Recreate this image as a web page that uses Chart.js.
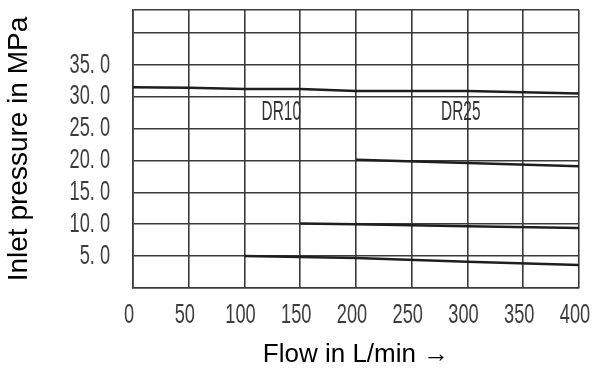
<!DOCTYPE html>
<html>
<head>
<meta charset="utf-8">
<script src="https://cdn.jsdelivr.net/npm/chart.js@4"></script>
<style>
  body { margin: 0; background: #fff; }
  #wrap { width: 595px; height: 369px; }
</style>
</head>
<body>
<div id="wrap"><canvas id="chart-flow" width="595" height="369"></canvas></div>
<script>
// values
let xTicks = [0, 50, 100, 150, 200, 250, 300, 350, 400]
let yTicks = [5, 10, 15, 20, 25, 30, 35]
let yTickLabels = ["5. 0", "10. 0", "15. 0", "20. 0", "25. 0", "30. 0", "35. 0"]

let flowTop = [0, 50, 100, 150, 200, 300, 400]
let pressTop = [31.5, 31.4, 31.2, 31.2, 30.9, 30.9, 30.5]

let flow20 = [200, 300, 400]
let press20 = [20.1, 19.6, 19.1]

let flow10 = [150, 200, 300, 400]
let press10 = [10.1, 10.0, 9.7, 9.4]

let flow5 = [100, 200, 300, 400]
let press5 = [5.0, 4.7, 4.1, 3.6]

let curveLabels = ["DR10", "DR25"]
let curveLabelX = [133, 294]
let curveLabelY = [27.5, 27.5]

function toPoints(xs, ys) {
    let pts = []
    for (let i = 0; i < xs.length; i++) {
        pts.push({x: xs[i], y: ys[i]})
    }
    return pts
}

function lineSet(xs, ys) {
    return {
        data: toPoints(xs, ys),
        borderColor: "#1e1e1e",
        borderWidth: 2.5,
        pointRadius: 0,
        tension: 0,
        fill: false
    }
}

// tick digits in the picture are tall and narrow, so squeeze them sideways
const narrowText = {
    id: "narrowText",
    afterDraw(chart) {
        let ctx = chart.ctx
        let xs = chart.scales.x
        let ys = chart.scales.y
        ctx.save()
        ctx.fillStyle = "#3c3c3c"
        ctx.font = "28px 'Liberation Sans', Arial, sans-serif"
        ctx.textBaseline = "middle"
        let sx = 0.65

        ctx.textAlign = "center"
        for (let t = 0; t < xTicks.length; t++) {
            let px = xs.getPixelForValue(xTicks[t]) - 4
            ctx.save()
            ctx.translate(px, 315)
            ctx.scale(sx, 1)
            ctx.fillText(String(xTicks[t]), 0, 0)
            ctx.restore()
        }

        ctx.textAlign = "right"
        for (let t = 0; t < yTicks.length; t++) {
            let py = ys.getPixelForValue(yTicks[t])
            ctx.save()
            ctx.translate(110, py)
            ctx.scale(sx, 1)
            ctx.fillText(yTickLabels[t], 0, 0)
            ctx.restore()
        }

        ctx.fillStyle = "#333"
        ctx.textAlign = "center"
        for (let t = 0; t < curveLabels.length; t++) {
            ctx.save()
            ctx.translate(xs.getPixelForValue(curveLabelX[t]), ys.getPixelForValue(curveLabelY[t]))
            ctx.scale(0.55, 1)
            ctx.fillText(curveLabels[t], 0, 0)
            ctx.restore()
        }
        ctx.restore()
    }
}

let flowChart = new Chart(
    document.getElementById("chart-flow").getContext('2d'),
    {
        type: "line",
        data: {
            datasets: [
                lineSet(flowTop, pressTop),
                lineSet(flow20, press20),
                lineSet(flow10, press10),
                lineSet(flow5, press5)
            ]
        },
        options: {
            responsive: false,
            animation: false,
            layout: {
                padding: {top: 10, right: 16, left: 0, bottom: 0}
            },
            plugins: {
                legend: {display: false},
                tooltip: {enabled: false}
            },
            scales: {
                x: {
                    type: "linear",
                    min: 0,
                    max: 400,
                    afterBuildTicks: (scale) => {
                        scale.ticks = xTicks.map(v => ({value: v}))
                    },
                    afterFit: (scale) => { scale.height = 81 },
                    grid: {color: "#3a3a3a", lineWidth: 1.6, drawTicks: false},
                    border: {color: "#3a3a3a", width: 1.6},
                    ticks: {display: false},
                    title: {
                        display: true,
                        text: "Flow in L/min \u2192",
                        color: "#000",
                        font: {family: "'Liberation Sans', Arial, sans-serif", size: 26, lineHeight: 1.1},
                        padding: {top: 0, bottom: 0}
                    }
                },
                y: {
                    type: "linear",
                    min: 0,
                    max: 43.6,
                    afterBuildTicks: (scale) => {
                        let tk = [0, 5, 10, 15, 20, 25, 30, 35, 40, 43.6]
                        scale.ticks = tk.map(v => ({value: v}))
                    },
                    afterFit: (scale) => { scale.width = 133 },
                    grid: {color: "#3a3a3a", lineWidth: 1.6, drawTicks: false},
                    border: {color: "#3a3a3a", width: 1.6},
                    ticks: {display: false},
                    title: {
                        display: true,
                        text: "Inlet pressure in MPa",
                        color: "#000",
                        font: {family: "'Liberation Sans', Arial, sans-serif", size: 28, lineHeight: 1.1},
                        padding: {top: 4, bottom: 0}
                    }
                }
            }
        },
        plugins: [narrowText]
    }
)
</script>
</body>
</html>
